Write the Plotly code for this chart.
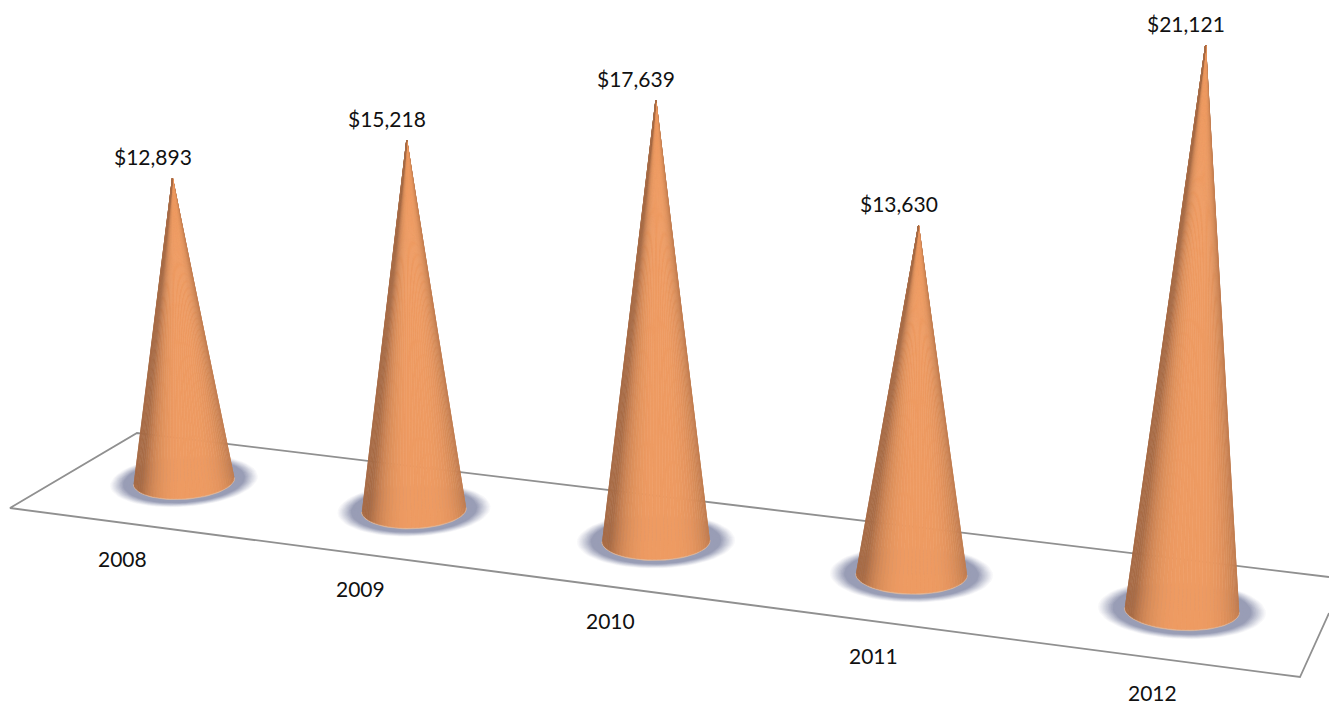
import math
import plotly.graph_objects as go

# ---- data ----
years = ["2008", "2009", "2010", "2011", "2012"]
revenue = [12893, 15218, 17639, 13630, 21121]
labels = ["$12,893", "$15,218", "$17,639", "$13,630", "$21,121"]

W, H = 1329, 708
# perspective magnification of the value axis at each category depth
depth_scale = [0.0235, 0.0243, 0.0250, 0.0256, 0.02675]


# ---- perspective mapping of (category index, value) to the plot plane ----
def base_x(i):
    return 184 + 230 * i + 6 * i * (i - 1) + 0.25 * i * (i - 1) * (i - 2)


def base_y(i):
    return 481 + 27.75 * i + 1.125 * i * i


def apex(i, v):
    h = v * depth_scale[i]
    cx = base_x(i)
    return cx + h * (cx - 660) * 8e-5, base_y(i) - h


def ellipse(i, a, b, t):
    tilt = -0.07 + 0.028 * i
    ca, sa = math.cos(tilt), math.sin(tilt)
    ex, ey = a * math.cos(t), b * math.sin(t)
    return base_x(i) + ex * ca - ey * sa, base_y(i) + ex * sa + ey * ca


def mix(c1, c2, f):
    f = max(0.0, min(1.0, f))
    return "rgb(%d,%d,%d)" % tuple(round(p + (q - p) * f) for p, q in zip(c1, c2))


fig = go.Figure()


def poly(xs, ys, color):
    fig.add_trace(go.Scatter(x=xs, y=ys, mode="lines", fill="toself", fillcolor=color,
                             line=dict(color=color, width=0.6), hoverinfo="skip", showlegend=False))


# ground plane
plane_x = [1329, 137, 10, 1300, 1329]
plane_y = [577, 433, 508, 677, 613]
fig.add_trace(go.Scatter(x=plane_x, y=plane_y, mode="lines", line=dict(color="#909090", width=1.8),
                         hoverinfo="skip", showlegend=False))

SHADOW = (153, 157, 182)
WHITE = (255, 255, 255)
DARK = (168, 108, 70)
BRIGHT = (238, 155, 98)
RIM = (226, 186, 156)
N_STRIPS = 44

for i, v in enumerate(revenue):
    a = 50 + 1.7 * i
    b = 17.2 + 0.55 * i
    # soft shadow on the floor
    for k in range(16):
        f = k / 15
        sa_, sb_ = a * (1.5 - 0.42 * f), b * (1.5 - 0.38 * f)
        pts = [ellipse(i, sa_, sb_, 2 * math.pi * n / 60) for n in range(61)]
        poly([p[0] for p in pts], [p[1] for p in pts], mix(WHITE, SHADOW, min(1, f * 1.5) ** 1.1))
    # light rim on the foot of the cone
    pts = [ellipse(i, a + 0.8, b + 1.2, math.pi * n / 40) for n in range(41)]
    poly([p[0] for p in pts], [p[1] for p in pts], mix(RIM, RIM, 0))
    # shaded cone
    ax, ay = apex(i, v)
    t0, t1 = -0.12, math.pi + 0.12
    for n in range(N_STRIPS):
        ta = t0 + (t1 - t0) * n / N_STRIPS
        tb = t0 + (t1 - t0) * (n + 1) / N_STRIPS
        p, q = ellipse(i, a, b, ta), ellipse(i, a, b, tb)
        u = math.cos((ta + tb) / 2)
        poly([ax, p[0], q[0], ax], [ay, p[1], q[1], ay], mix(BRIGHT, DARK, abs(u - 0.12) ** 3.5))

annotations = []
for i, v in enumerate(revenue):
    ax, ay = apex(i, v)
    annotations.append(dict(x=ax, y=ay, text=labels[i], xshift=-19.5, yshift=22, showarrow=False,
                            font=dict(family="Lato", size=21, color="#111111")))
    annotations.append(dict(x=base_x(i), y=base_y(i), text=years[i], xshift=-62 + 8 * i,
                            yshift=-(77 + 1.25 * i), showarrow=False,
                            font=dict(family="Lato", size=21, color="#111111")))

fig.update_layout(
    width=W, height=H, margin=dict(l=0, r=0, t=0, b=0), showlegend=False,
    paper_bgcolor="white", plot_bgcolor="white", annotations=annotations,
    xaxis=dict(range=[0, W], visible=False, fixedrange=True),
    yaxis=dict(range=[H, 0], visible=False, fixedrange=True),
)
fig.write_html("out.html", config={"displayModeBar": False},
               post_script="document.body.style.margin='0';")
